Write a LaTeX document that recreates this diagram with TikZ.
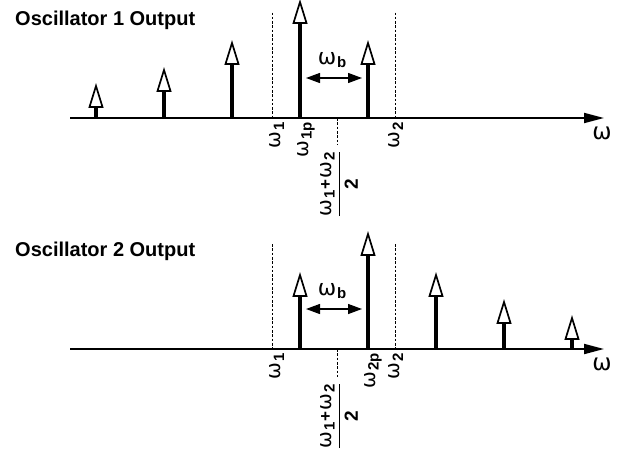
\documentclass[tikz,border=0pt]{standalone}
\usepackage{fontspec}
\setmainfont{Liberation Sans}
\newfontfamily\omfont{DejaVu Sans}
\usetikzlibrary{arrows.meta}
\newcommand\om[1][20]{{\omfont\fontsize{#1}{#1}\selectfont ω}}
\newcommand\wsub[2][20]{\om[#1]\kern0.8pt\raisebox{-3.5pt}{\fontsize{15}{15}\selectfont\bfseries #2}}
\newcommand\fracnum{\hbox{\wsub{1}\kern1pt{\fontsize{17}{17}\selectfont\bfseries +}\kern1pt\wsub{2}}}
\newcommand\fracden{\hbox{\fontsize{19}{19}\selectfont\bfseries 2}}
\newcommand\mkspike[3]{%
  \draw[spikeline] (#1,#2) -- (#1,{#2-#3+20});
  \draw[spikehead] (#1,{#2-#3}) -- ({#1-6.5},{#2-#3+21}) -- ({#1+6.5},{#2-#3+21}) -- cycle;}
\begin{document}
\begin{tikzpicture}[x=1pt,y=-1pt,
  axisline/.style={line width=1.9pt,-{Triangle[length=20pt,width=10pt]}},
  spikeline/.style={line width=3.6pt},
  spikehead/.style={line width=1.7pt,fill=white,line join=miter},
  dashline/.style={line width=0.9pt,dash pattern=on 2.6pt off 1.7pt},
  bwarrow/.style={line width=1.3pt,{Triangle[length=14pt,width=10pt]}-{Triangle[length=14pt,width=10pt]}},
  title/.style={font=\fontsize{20}{20}\selectfont\bfseries,anchor=base west,inner sep=0},
  lab/.style={rotate=90,anchor=east,inner sep=0},
  omegalab/.style={inner sep=0}]
\useasboundingbox (0,0) rectangle (620,455);
% ---------- Oscillator 1 ----------
\node[title] (t1) at (15,25) {Oscillator 1 Output};
\draw[dashline] (272.7,12.5) -- (272.7,118);
\draw[dashline] (395.7,12.5) -- (395.7,118);
\draw[dashline] (337.5,118) -- (337.5,145);
\draw[axisline] (70,118) -- (604,118);
\mkspike{96}{118}{32}
\mkspike{164}{118}{48}
\mkspike{232}{118}{75}
\mkspike{300}{118}{116}
\mkspike{368}{118}{75}
\coordinate (b1l) at (306,78);
\coordinate (b1r) at (362,78);
\draw[bwarrow] (b1l) -- (b1r);
\node[anchor=base,inner sep=0] (wb1) at (332,64) {\wsub[22]{b}};
\node[omegalab] (om1) at (602,133) {\om[23]};
\node[lab] (l11) at (277,122) {\wsub{1}};
\node[lab] (l1p) at (306,122) {\wsub{1p}};
\node[lab] (l12) at (396,122) {\wsub{2}};
\node[lab] (f1) at (339,151) {$\displaystyle{\fracnum\above1.4pt\fracden}$};
% ---------- Oscillator 2 ----------
\node[title] (t2) at (15,256) {Oscillator 2 Output};
\draw[dashline] (272.7,244) -- (272.7,349);
\draw[dashline] (395.7,244) -- (395.7,349);
\draw[dashline] (337.5,349) -- (337.5,377);
\draw[axisline] (70,349) -- (604,349);
\mkspike{300}{349}{74}
\mkspike{368}{349}{115}
\mkspike{436}{349}{74}
\mkspike{504}{349}{47}
\mkspike{572}{349}{31}
\coordinate (b2l) at (306,309);
\coordinate (b2r) at (362,309);
\draw[bwarrow] (b2l) -- (b2r);
\node[anchor=base,inner sep=0] (wb2) at (332,295) {\wsub[22]{b}};
\node[omegalab] (om2) at (602,364) {\om[23]};
\node[lab] (l21) at (277,353) {\wsub{1}};
\node[lab] (l2p) at (373,353) {\wsub{2p}};
\node[lab] (l22) at (396,353) {\wsub{2}};
\node[lab] (f2) at (339,383) {$\displaystyle{\fracnum\above1.4pt\fracden}$};
\end{tikzpicture}
\end{document}
